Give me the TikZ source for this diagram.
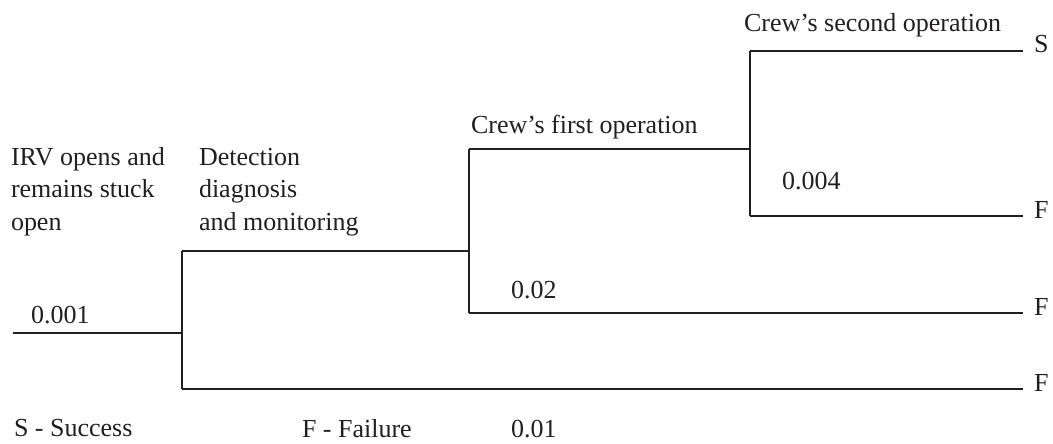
\documentclass[tikz,border=0pt]{standalone}
\usepackage{fontspec}
\setmainfont{Liberation Serif}
\definecolor{ink}{RGB}{35,31,32}
\begin{document}
\begin{tikzpicture}[x=1pt,y=-1pt,
  branch/.style={draw=ink,line width=1.8pt},
  label/.style={text=ink,inner sep=0pt,outer sep=0pt,anchor=base west,
    font=\fontsize{26}{32.5}\selectfont},
  endlabel/.style={label}]
\useasboundingbox (0,0) rectangle (1053,444);

% junction points of the event tree
\coordinate (init)  at (13,333);
\coordinate (j0)    at (182,333);
\coordinate (j0t)   at (182,251);
\coordinate (j0b)   at (182,389);
\coordinate (j1)    at (469,251);
\coordinate (j1t)   at (469,149);
\coordinate (j1b)   at (469,313);
\coordinate (j2)    at (750,149);
\coordinate (j2t)   at (750,51);
\coordinate (j2b)   at (750,216);
% free ends of the sequences
\coordinate (e1) at (1023,51);
\coordinate (e2) at (1023,216);
\coordinate (e3) at (1023,313);
\coordinate (e4) at (1023,389);

% branches
\draw[branch] (init) -- (j0);
\draw[branch] (j0t) -- (j0b);
\draw[branch] (j0t) -- (j1);
\draw[branch] (j0b) -- (e4);
\draw[branch] (j1t) -- (j1b);
\draw[branch] (j1t) -- (j2);
\draw[branch] (j1b) -- (e3);
\draw[branch] (j2t) -- (j2b);
\draw[branch] (j2t) -- (e1);
\draw[branch] (j2b) -- (e2);

% outcomes
\node[endlabel] (o1) at (1034,53)  {S};
\node[endlabel] (o2) at (1034,218) {F};
\node[endlabel] (o3) at (1034,315) {F};
\node[endlabel] (o4) at (1034,391) {F};

% event headings
\node[label] (irv) at (11,165)
  {\begin{tabular}[t]{@{}l@{}}IRV opens and\\remains stuck\\open\end{tabular}};
\node[label] (ddm) at (199,165)
  {\begin{tabular}[t]{@{}l@{}}Detection\\diagnosis\\and monitoring\end{tabular}};
\node[label] (crew1) at (471,133) {Crew's first operation};
\node[label] (crew2) at (744,32)  {Crew's second operation};

% probabilities
\node[label] (p001) at (31,323)  {0.001};
\node[label] (p02)  at (511,298) {0.02};
\node[label] (p004) at (782,189) {0.004};
\node[label] (p01)  at (511,437) {0.01};

% legend
\node[label] (legS) at (14,436)  {S - Success};
\node[label] (legF) at (302,437) {F - Failure};
\end{tikzpicture}
\end{document}
